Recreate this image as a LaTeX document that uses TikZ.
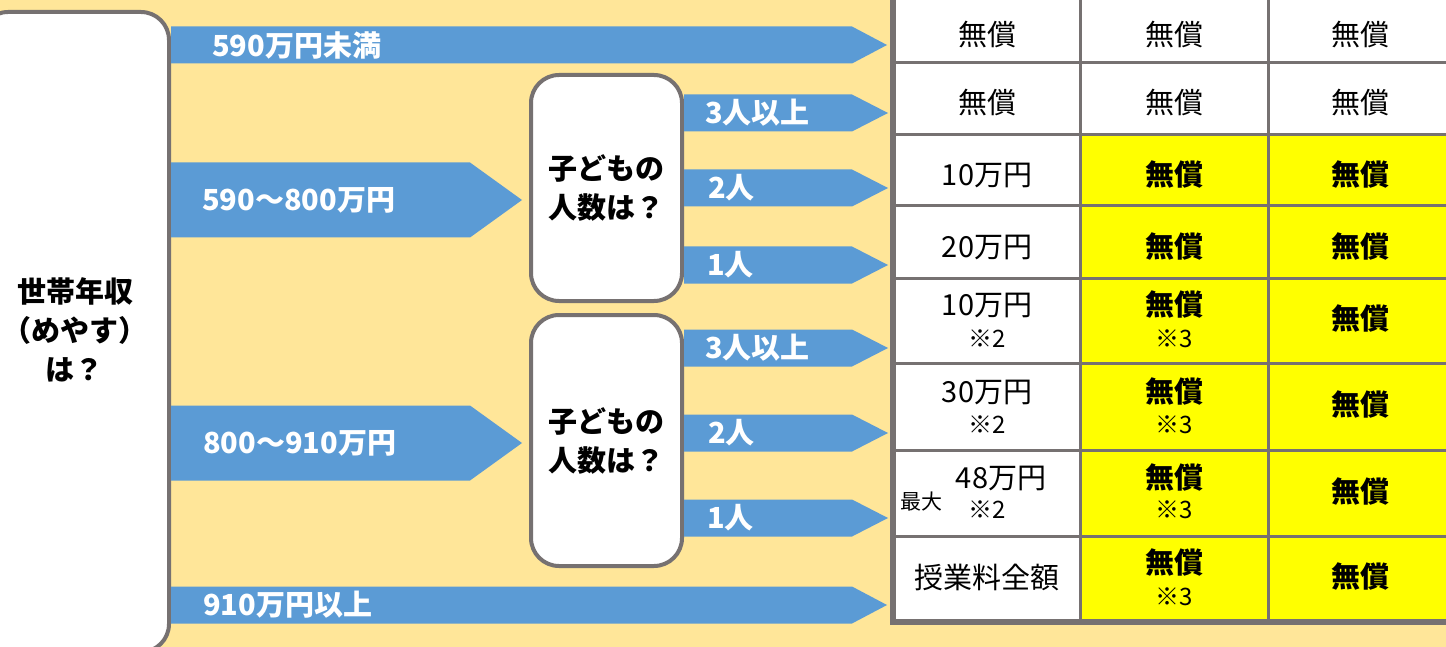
\documentclass[tikz,border=0pt]{standalone}
\usepackage{fontspec}
\setmainfont{Noto Sans CJK JP}
\usetikzlibrary{calc}
\usetikzlibrary{positioning}

\definecolor{bgtan}{HTML}{FFE699}
\definecolor{flowblue}{HTML}{5B9BD5}
\definecolor{framegray}{HTML}{767171}
\definecolor{freeyellow}{HTML}{FFFF00}

% block arrow: start, tip, half height, head length
\newcommand{\flowarrow}[4]{%
  \fill[flowblue] ($(#1)+(0,-#3)$) -- ($(#2)+(-#4,-#3)$) -- (#2)
    -- ($(#2)+(-#4,#3)$) -- ($(#1)+(0,#3)$) -- cycle;}

\begin{document}
\begin{tikzpicture}[x=1pt,y=-1pt,
    askbox/.style={draw=framegray,line width=4pt,fill=white,rounded corners=28pt,inner sep=0pt},
    asktext/.style={font=\fontsize{29}{39}\selectfont\bfseries,align=center,inner sep=0pt},
    armlabel/.style={font=\fontsize{29}{29}\selectfont\bfseries,text=white,inner sep=0pt,anchor=west},
    cell/.style={font=\fontsize{29}{29}\selectfont,inner sep=0pt},
    freecell/.style={font=\fontsize{29}{29}\selectfont\bfseries,inner sep=0pt},
    note/.style={font=\fontsize{24}{24}\selectfont,inner sep=0pt},
    gridline/.style={draw=framegray,line width=3pt},
    frameline/.style={draw=framegray,line width=6pt}]

  \fill[bgtan] (0,0) rectangle (1446,647);
  \useasboundingbox (0,0) rectangle (1446,647);

  % question boxes
  \node [askbox,minimum width=189pt,minimum height=640pt] (income) at (74.5,332) {};
  \node [asktext] (incomeq) at (75,330) {世帯年収\\（めやす）\\は？};

  \node [askbox,minimum width=151pt,minimum height=226pt] (kids1) at (606.5,188) {};
  \node [asktext] (kidsq1) at (kids1) {子どもの\\人数は？};
  \node [askbox,minimum width=151pt,minimum height=251pt] (kids2) at (606.5,440.5) {};
  \node [asktext] (kidsq2) at (kids2) {子どもの\\人数は？};

  % arrows out of the income box
  \coordinate (a1s) at (income.east |- 0,45);
  \coordinate (a2s) at (income.east |- 0,200);
  \coordinate (a3s) at (income.east |- 0,443);
  \coordinate (a4s) at (income.east |- 0,605);
  \flowarrow{a1s}{887,45}{18.5}{35}
  \flowarrow{a2s}{522,0 |- a2s}{37.5}{52}
  \flowarrow{a3s}{522,0 |- a3s}{37.5}{52}
  \flowarrow{a4s}{887,605}{18.5}{35}
  \node [armlabel,right=41pt of a1s] (a1l) {590万円未満};
  \node [armlabel,right=31pt of a2s] (a2l) {590〜800万円};
  \node [armlabel,right=32pt of a3s] (a3l) {800〜910万円};
  \node [armlabel,right=32pt of a4s] (a4l) {910万円以上};

  % arrows out of the children boxes
  \coordinate (k1s) at (kids1.east |- 0,113);
  \coordinate (k2s) at (kids1.east |- 0,188);
  \coordinate (k3s) at (kids1.east |- 0,265);
  \coordinate (k4s) at (kids2.east |- 0,348);
  \coordinate (k5s) at (kids2.east |- 0,433);
  \coordinate (k6s) at (kids2.east |- 0,518);
  \foreach \k in {k1s,k2s,k3s,k4s,k5s,k6s}
    \flowarrow{\k}{888,0 |- \k}{18.5}{36};
  \node [armlabel,right=21pt of k1s] (k1l) {3人以上};
  \node [armlabel,right=24pt of k2s] (k2l) {2人};
  \node [armlabel,right=23pt of k3s] (k3l) {1人};
  \node [armlabel,right=21pt of k4s] (k4l) {3人以上};
  \node [armlabel,right=24pt of k5s] (k5l) {2人};
  \node [armlabel,right=23pt of k6s] (k6l) {1人};

  % table
  \fill[white] (893,-5) rectangle (1450,622);
  \fill[freeyellow] (1080,135) rectangle (1450,622);
  \foreach \y in {63,135,206,278,363,450,536}
    \draw[gridline] (893,\y) -- (1450,\y);
  \foreach \x in {1080,1268}
    \draw[gridline] (\x,-5) -- (\x,622);
  \draw[frameline] (893,-5) -- (893,622) -- (1450,622);

  \node [cell] (c11) at (987,35) {無償};
  \node [cell] (c12) at (1174,35) {無償};
  \node [cell] (c13) at (1360,35) {無償};
  \node [cell] (c21) at (987,103) {無償};
  \node [cell] (c22) at (1174,103) {無償};
  \node [cell] (c23) at (1360,103) {無償};
  \node [cell] (c31) at (987,175) {10万円};
  \node [freecell] (c32) at (1174,175) {無償};
  \node [freecell] (c33) at (1360,175) {無償};
  \node [cell] (c41) at (987,247) {20万円};
  \node [freecell] (c42) at (1174,247) {無償};
  \node [freecell] (c43) at (1360,247) {無償};
  \node [cell] (c51) at (987,305) {10万円};
  \node [note] (c51n) at (987,339) {※2};
  \node [freecell] (c52) at (1174,305) {無償};
  \node [note] (c52n) at (1174,339) {※3};
  \node [freecell] (c53) at (1360,319) {無償};
  \node [cell] (c61) at (987,392) {30万円};
  \node [note] (c61n) at (987,425) {※2};
  \node [freecell] (c62) at (1174,392) {無償};
  \node [note] (c62n) at (1174,425) {※3};
  \node [freecell] (c63) at (1360,405) {無償};
  \node [cell] (c71) at (1001,478) {48万円};
  \node [note] (c71n) at (987,510) {※2};
  \node [note,font=\fontsize{21}{21}\selectfont] (c71m) at (921,502) {最大};
  \node [freecell] (c72) at (1174,478) {無償};
  \node [note] (c72n) at (1174,510) {※3};
  \node [freecell] (c73) at (1360,492) {無償};
  \node [cell] (c81) at (987,577) {授業料全額};
  \node [freecell] (c82) at (1174,563) {無償};
  \node [note] (c82n) at (1174,597) {※3};
  \node [freecell] (c83) at (1360,577) {無償};

\end{tikzpicture}
\end{document}
